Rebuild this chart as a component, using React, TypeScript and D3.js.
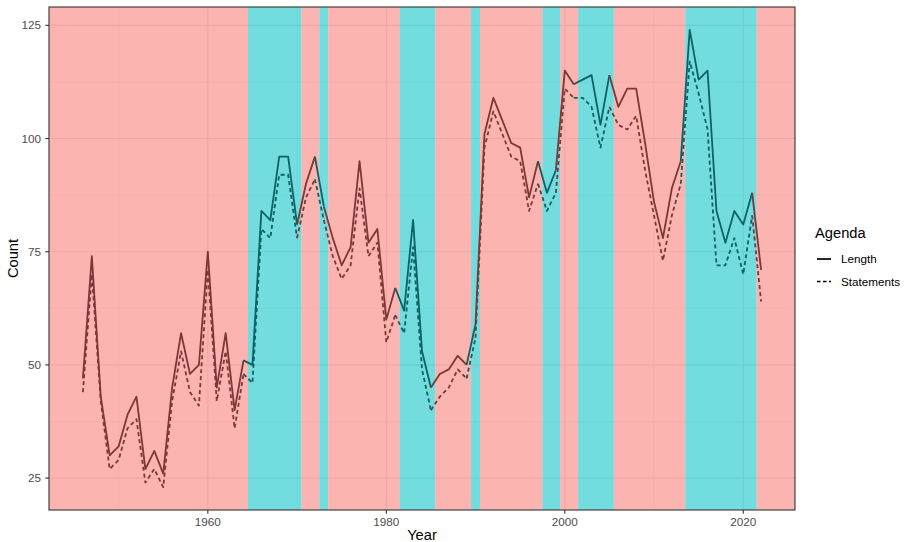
import * as d3 from "d3";

const years = d3.range(1946, 2023);

// A = red background period, B = cyan background period
const period = [
  "A","A","A","A","A","A","A","A","A","A","A","A","A","A","A","A","A","A","A", // 1946-1964
  "B","B","B","B","B","B", // 1965-1970
  "A","A", // 1971-1972
  "B", // 1973
  "A","A","A","A","A","A","A","A", // 1974-1981
  "B","B","B","B", // 1982-1985
  "A","A","A","A", // 1986-1989
  "B", // 1990
  "A","A","A","A","A","A","A", // 1991-1997
  "B","B", // 1998-1999
  "A","A", // 2000-2001
  "B","B","B","B", // 2002-2005
  "A","A","A","A","A","A","A","A", // 2006-2013
  "B","B","B","B","B","B","B","B", // 2014-2021
  "A", // 2022
];

const lengthVals = [
  47, 74, 43, 30, 32, 39, 43, 27, 31, 26, 45, 57, 48, 50, 75, 45, 57, 40, 51, 50,
  84, 82, 96, 96, 81, 90, 96, 85, 78, 72, 76, 95, 77, 80, 60, 67, 62, 82, 53, 45,
  48, 49, 52, 50, 59, 101, 109, 104, 99, 98, 87, 95, 88, 93, 115, 112, 113, 114, 103, 114,
  107, 111, 111, 99, 86, 78, 89, 95, 124, 113, 115, 84, 77, 84, 81, 88, 71,
];

const statementVals = [
  44, 70, 42, 27, 29, 36, 38, 24, 27, 23, 42, 53, 44, 41, 71, 42, 53, 36, 48, 46,
  80, 78, 92, 92, 78, 87, 91, 82, 74, 69, 72, 89, 74, 77, 55, 61, 57, 76, 49, 40,
  43, 45, 49, 47, 56, 98, 106, 101, 96, 95, 84, 90, 84, 88, 111, 109, 109, 107, 98, 107,
  103, 102, 105, 93, 83, 73, 83, 90, 117, 110, 102, 72, 72, 78, 70, 83, 64,
];

const xTicks = [1960, 1980, 2000, 2020];
const xMinor = [1950, 1970, 1990, 2010];
const yTicks = [25, 50, 75, 100, 125];
const yMinor = [37.5, 62.5, 87.5, 112.5];

const series = [
  { name: "Length", values: lengthVals, dash: null },
  { name: "Statements", values: statementVals, dash: "4 3" },
];

const bgFill: Record<string, string> = { A: "#F8766D", B: "#00BFC4" };
const lineCol: Record<string, string> = { A: "#7E3636", B: "#0B6265" };

const W = 907, H = 542;
const left = 49, right = 795, top = 7, bottom = 510;
const font = "'Liberation Sans', Arial, Helvetica, sans-serif";

export default function App() {
  const allVals = lengthVals.concat(statementVals);
  const yMin = d3.min(allVals)!, yMax = d3.max(allVals)!;
  const xMin = d3.min(years)!, xMax = d3.max(years)!;
  const xPad = (xMax - xMin) * 0.05, yPad = (yMax - yMin) * 0.05;

  const x = d3.scaleLinear().domain([xMin - xPad, xMax + xPad]).range([left, right]);
  const y = d3.scaleLinear().domain([yMin - yPad, yMax + yPad]).range([bottom, top]);

  // background runs
  const runs: { p: string; x0: number; x1: number }[] = [];
  years.forEach((yr, i) => {
    const p = period[i];
    const last = runs[runs.length - 1];
    if (last && last.p === p) last.x1 = yr + 0.5;
    else runs.push({ p, x0: yr - 0.5, x1: yr + 0.5 });
  });
  runs[0].x0 = x.domain()[0];
  runs[runs.length - 1].x1 = x.domain()[1];

  // line pieces: each segment coloured by the period of its end year
  const pieces: { p: string; idx: number[] }[] = [];
  for (let i = 1; i < years.length; i++) {
    const p = period[i];
    const last = pieces[pieces.length - 1];
    if (last && last.p === p) last.idx.push(i);
    else pieces.push({ p, idx: [i - 1, i] });
  }

  const line = (vals: number[]) =>
    d3.line<number>().x((i) => x(years[i])).y((i) => y(vals[i]));

  return (
    <svg width={W} height={H} style={{ position: "absolute", left: 0, top: 0, background: "#fff" }}>
      <rect x={left} y={top} width={right - left} height={bottom - top} fill="#fff" />
      {/* grid */}
      {xMinor.map((t) => (
        <line key={"xm" + t} x1={x(t)} x2={x(t)} y1={top} y2={bottom} stroke="#EBEBEB" strokeWidth={0.55} />
      ))}
      {yMinor.map((t) => (
        <line key={"ym" + t} x1={left} x2={right} y1={y(t)} y2={y(t)} stroke="#EBEBEB" strokeWidth={0.55} />
      ))}
      {xTicks.map((t) => (
        <line key={"xg" + t} x1={x(t)} x2={x(t)} y1={top} y2={bottom} stroke="#E3E3E3" strokeWidth={1.1} />
      ))}
      {yTicks.map((t) => (
        <line key={"yg" + t} x1={left} x2={right} y1={y(t)} y2={y(t)} stroke="#E3E3E3" strokeWidth={1.1} />
      ))}
      {/* background periods */}
      {runs.map((r, i) => (
        <rect key={"r" + i} x={x(r.x0)} y={top} width={x(r.x1) - x(r.x0)} height={bottom - top}
          fill={bgFill[r.p]} fillOpacity={0.55} />
      ))}
      {/* lines */}
      {series.map((s) =>
        pieces.map((pc, j) => (
          <path key={s.name + j} d={line(s.values)(pc.idx) || ""} fill="none" stroke={lineCol[pc.p]}
            strokeWidth={1.8} strokeDasharray={s.dash || undefined} strokeLinejoin="round" />
        ))
      )}
      {/* panel border */}
      <rect x={left} y={top} width={right - left} height={bottom - top} fill="none" stroke="#333333" strokeWidth={1.1} />
      {/* x axis */}
      {xTicks.map((t) => (
        <g key={"xt" + t}>
          <line x1={x(t)} x2={x(t)} y1={bottom} y2={bottom + 3.7} stroke="#333333" strokeWidth={1.1} />
          <text x={x(t)} y={bottom + 15.5} textAnchor="middle" fontSize={11.7} fill="#4D4D4D" fontFamily={font}>{t}</text>
        </g>
      ))}
      {/* y axis */}
      {yTicks.map((t) => (
        <g key={"yt" + t}>
          <line x1={left - 3.7} x2={left} y1={y(t)} y2={y(t)} stroke="#333333" strokeWidth={1.1} />
          <text x={left - 8} y={y(t)} dy="0.35em" textAnchor="end" fontSize={11.7} fill="#4D4D4D" fontFamily={font}>{t}</text>
        </g>
      ))}
      <text x={(left + right) / 2} y={H - 2} textAnchor="middle" fontSize={14.7} fill="#000" fontFamily={font}>Year</text>
      <text transform={`translate(18,${(top + bottom) / 2}) rotate(-90)`} textAnchor="middle" fontSize={14.7} fill="#000" fontFamily={font}>Count</text>
      {/* legend */}
      <text x={815} y={238} fontSize={14.7} fill="#000" fontFamily={font}>Agenda</text>
      {series.map((s, i) => (
        <g key={"lg" + s.name} transform={`translate(815,${259 + i * 22.5})`}>
          <line x1={2} x2={16} y1={0} y2={0} stroke="#000" strokeWidth={1.7} strokeDasharray={s.dash ? "3.5 2.5" : undefined} />
          <text x={26} y={0} dy="0.35em" fontSize={11.7} fill="#000" fontFamily={font}>{s.name}</text>
        </g>
      ))}
    </svg>
  );
}
